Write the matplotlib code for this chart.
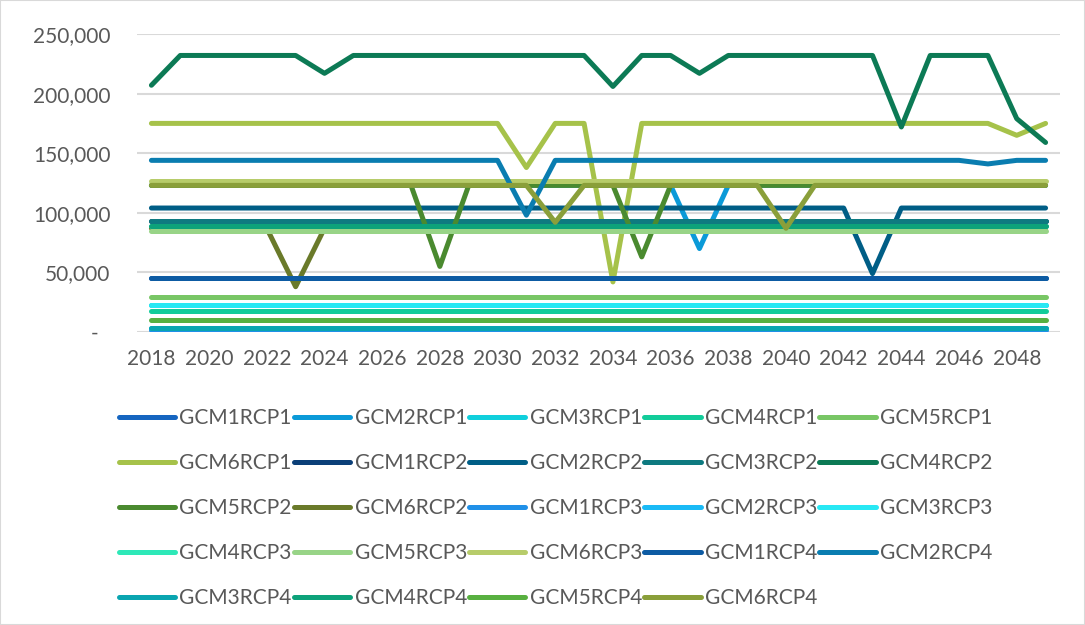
import matplotlib
matplotlib.use("Agg")
import matplotlib.pyplot as plt
from matplotlib.ticker import FuncFormatter, FixedLocator
from matplotlib.transforms import ScaledTranslation

plt.rcParams['font.family'] = ['Lato', 'DejaVu Sans']

# Data
years = list(range(2018, 2050))

series_names = [
    'GCM1RCP1', 'GCM2RCP1', 'GCM3RCP1', 'GCM4RCP1', 'GCM5RCP1', 'GCM6RCP1',
    'GCM1RCP2', 'GCM2RCP2', 'GCM3RCP2', 'GCM4RCP2', 'GCM5RCP2', 'GCM6RCP2',
    'GCM1RCP3', 'GCM2RCP3', 'GCM3RCP3', 'GCM4RCP3', 'GCM5RCP3', 'GCM6RCP3',
    'GCM1RCP4', 'GCM2RCP4', 'GCM3RCP4', 'GCM4RCP4', 'GCM5RCP4', 'GCM6RCP4',
]

colors = [
    '#1565C0', '#0B9AD8', '#10CFDC', '#12CC9A', '#78C665', '#A6C24A',
    '#0B3F78', '#005E86', '#0E7A80', '#0C7A55', '#4A8A2F', '#6A7A2A',
    '#2090E8', '#1ABAF6', '#28E8F4', '#2EE8B8', '#98D487', '#B7CC6A',
    '#0D5BA3', '#0A7DB0', '#0AA5B0', '#0DA27A', '#58B040', '#8A9F3A',
]

#                 2018                                            2028                                                        2038                                                        2048
gcm1rcp1 = [45000, 45000, 45000, 45000, 45000, 45000, 45000, 45000, 45000, 45000, 45000, 45000, 45000, 45000, 45000, 45000, 45000, 45000, 45000, 45000, 45000, 45000, 45000, 45000, 45000, 45000, 45000, 45000, 45000, 45000, 45000, 45000]
gcm2rcp1 = [123000, 123000, 123000, 123000, 123000, 123000, 123000, 123000, 123000, 123000, 123000, 123000, 123000, 123000, 123000, 123000, 123000, 123000, 123000, 70000, 123000, 123000, 123000, 123000, 123000, 123000, 123000, 123000, 123000, 123000, 123000, 123000]
gcm3rcp1 = [22400, 22400, 22400, 22400, 22400, 22400, 22400, 22400, 22400, 22400, 22400, 22400, 22400, 22400, 22400, 22400, 22400, 22400, 22400, 22400, 22400, 22400, 22400, 22400, 22400, 22400, 22400, 22400, 22400, 22400, 22400, 22400]
gcm4rcp1 = [17600, 17600, 17600, 17600, 17600, 17600, 17600, 17600, 17600, 17600, 17600, 17600, 17600, 17600, 17600, 17600, 17600, 17600, 17600, 17600, 17600, 17600, 17600, 17600, 17600, 17600, 17600, 17600, 17600, 17600, 17600, 17600]
gcm5rcp1 = [29000, 29000, 29000, 29000, 29000, 29000, 29000, 29000, 29000, 29000, 29000, 29000, 29000, 29000, 29000, 29000, 29000, 29000, 29000, 29000, 29000, 29000, 29000, 29000, 29000, 29000, 29000, 29000, 29000, 29000, 29000, 29000]
gcm6rcp1 = [175000, 175000, 175000, 175000, 175000, 175000, 175000, 175000, 175000, 175000, 175000, 175000, 175000, 138000, 175000, 175000, 42000, 175000, 175000, 175000, 175000, 175000, 175000, 175000, 175000, 175000, 175000, 175000, 175000, 175000, 165000, 175000]
gcm1rcp2 = [93000, 93000, 93000, 93000, 93000, 93000, 93000, 93000, 93000, 93000, 93000, 93000, 93000, 93000, 93000, 93000, 93000, 93000, 93000, 93000, 93000, 93000, 93000, 93000, 93000, 93000, 93000, 93000, 93000, 93000, 93000, 93000]
gcm2rcp2 = [104000, 104000, 104000, 104000, 104000, 104000, 104000, 104000, 104000, 104000, 104000, 104000, 104000, 104000, 104000, 104000, 104000, 104000, 104000, 104000, 104000, 104000, 104000, 104000, 104000, 49000, 104000, 104000, 104000, 104000, 104000, 104000]
gcm3rcp2 = [93000, 93000, 93000, 93000, 93000, 93000, 93000, 93000, 93000, 93000, 93000, 93000, 93000, 93000, 93000, 93000, 93000, 93000, 93000, 93000, 93000, 93000, 93000, 93000, 93000, 93000, 93000, 93000, 93000, 93000, 93000, 93000]
gcm4rcp2 = [207000, 232000, 232000, 232000, 232000, 232000, 217000, 232000, 232000, 232000, 232000, 232000, 232000, 232000, 232000, 232000, 206000, 232000, 232000, 217000, 232000, 232000, 232000, 232000, 232000, 232000, 172000, 232000, 232000, 232000, 179000, 159000]
gcm5rcp2 = [123000, 123000, 123000, 123000, 123000, 123000, 123000, 123000, 123000, 123000, 55000, 123000, 123000, 123000, 123000, 123000, 123000, 63000, 123000, 123000, 123000, 123000, 123000, 123000, 123000, 123000, 123000, 123000, 123000, 123000, 123000, 123000]
gcm6rcp2 = [87000, 87000, 87000, 87000, 87000, 38000, 87000, 87000, 87000, 87000, 87000, 87000, 87000, 87000, 87000, 87000, 87000, 87000, 87000, 87000, 87000, 87000, 87000, 87000, 87000, 87000, 87000, 87000, 87000, 87000, 87000, 87000]
gcm1rcp3 = [1500, 1500, 1500, 1500, 1500, 1500, 1500, 1500, 1500, 1500, 1500, 1500, 1500, 1500, 1500, 1500, 1500, 1500, 1500, 1500, 1500, 1500, 1500, 1500, 1500, 1500, 1500, 1500, 1500, 1500, 1500, 1500]
gcm2rcp3 = [3400, 3400, 3400, 3400, 3400, 3400, 3400, 3400, 3400, 3400, 3400, 3400, 3400, 3400, 3400, 3400, 3400, 3400, 3400, 3400, 3400, 3400, 3400, 3400, 3400, 3400, 3400, 3400, 3400, 3400, 3400, 3400]
gcm3rcp3 = [22400, 22400, 22400, 22400, 22400, 22400, 22400, 22400, 22400, 22400, 22400, 22400, 22400, 22400, 22400, 22400, 22400, 22400, 22400, 22400, 22400, 22400, 22400, 22400, 22400, 22400, 22400, 22400, 22400, 22400, 22400, 22400]
gcm4rcp3 = [89000, 89000, 89000, 89000, 89000, 89000, 89000, 89000, 89000, 89000, 89000, 89000, 89000, 89000, 89000, 89000, 89000, 89000, 89000, 89000, 89000, 89000, 89000, 89000, 89000, 89000, 89000, 89000, 89000, 89000, 89000, 89000]
gcm5rcp3 = [85000, 85000, 85000, 85000, 85000, 85000, 85000, 85000, 85000, 85000, 85000, 85000, 85000, 85000, 85000, 85000, 85000, 85000, 85000, 85000, 85000, 85000, 85000, 85000, 85000, 85000, 85000, 85000, 85000, 85000, 85000, 85000]
gcm6rcp3 = [127000, 127000, 127000, 127000, 127000, 127000, 127000, 127000, 127000, 127000, 127000, 127000, 127000, 127000, 127000, 127000, 127000, 127000, 127000, 127000, 127000, 127000, 127000, 127000, 127000, 127000, 127000, 127000, 127000, 127000, 127000, 127000]
gcm1rcp4 = [45000, 45000, 45000, 45000, 45000, 45000, 45000, 45000, 45000, 45000, 45000, 45000, 45000, 45000, 45000, 45000, 45000, 45000, 45000, 45000, 45000, 45000, 45000, 45000, 45000, 45000, 45000, 45000, 45000, 45000, 45000, 45000]
gcm2rcp4 = [144000, 144000, 144000, 144000, 144000, 144000, 144000, 144000, 144000, 144000, 144000, 144000, 144000, 98000, 144000, 144000, 144000, 144000, 144000, 144000, 144000, 144000, 144000, 144000, 144000, 144000, 144000, 144000, 144000, 141000, 144000, 144000]
gcm3rcp4 = [3400, 3400, 3400, 3400, 3400, 3400, 3400, 3400, 3400, 3400, 3400, 3400, 3400, 3400, 3400, 3400, 3400, 3400, 3400, 3400, 3400, 3400, 3400, 3400, 3400, 3400, 3400, 3400, 3400, 3400, 3400, 3400]
gcm4rcp4 = [89000, 89000, 89000, 89000, 89000, 89000, 89000, 89000, 89000, 89000, 89000, 89000, 89000, 89000, 89000, 89000, 89000, 89000, 89000, 89000, 89000, 89000, 89000, 89000, 89000, 89000, 89000, 89000, 89000, 89000, 89000, 89000]
gcm5rcp4 = [10000, 10000, 10000, 10000, 10000, 10000, 10000, 10000, 10000, 10000, 10000, 10000, 10000, 10000, 10000, 10000, 10000, 10000, 10000, 10000, 10000, 10000, 10000, 10000, 10000, 10000, 10000, 10000, 10000, 10000, 10000, 10000]
gcm6rcp4 = [123000, 123000, 123000, 123000, 123000, 123000, 123000, 123000, 123000, 123000, 123000, 123000, 123000, 123000, 92000, 123000, 123000, 123000, 123000, 123000, 123000, 123000, 87000, 123000, 123000, 123000, 123000, 123000, 123000, 123000, 123000, 123000]

all_series = [
    gcm1rcp1, gcm2rcp1, gcm3rcp1, gcm4rcp1, gcm5rcp1, gcm6rcp1,
    gcm1rcp2, gcm2rcp2, gcm3rcp2, gcm4rcp2, gcm5rcp2, gcm6rcp2,
    gcm1rcp3, gcm2rcp3, gcm3rcp3, gcm4rcp3, gcm5rcp3, gcm6rcp3,
    gcm1rcp4, gcm2rcp4, gcm3rcp4, gcm4rcp4, gcm5rcp4, gcm6rcp4,
]

# Plotting
fig = plt.figure(figsize=(10.85, 6.25), dpi=100)
ax = fig.add_axes([137 / 1085, 1 - 332 / 625, (1060 - 137) / 1085, (332 - 34) / 625])

x = list(range(len(years)))
lines = []
for name, vals, col in zip(series_names, all_series, colors):
    ln, = ax.plot(x, vals, color=col, linewidth=3.6, label=name,
                  solid_capstyle='round', solid_joinstyle='round')
    lines.append(ln)

ax.set_xlim(-0.5, len(years) - 0.5)
ax.set_ylim(0, 250000)
ax.set_yticks([0, 50000, 100000, 150000, 200000, 250000])
ax.yaxis.set_major_formatter(FuncFormatter(lambda v, p: '-' if v == 0 else f'{v:,.0f}'))
ax.xaxis.set_major_locator(FixedLocator(x[::2]))
ax.set_xticklabels([str(y) for y in years[::2]])

ax.grid(axis='y', color='#D9D9D9', linewidth=1.5)
ax.set_axisbelow(True)
for s in ax.spines.values():
    s.set_visible(False)
ax.tick_params(length=0, labelsize=15, labelcolor='#595959')
ax.tick_params(axis='y', pad=19)
ax.tick_params(axis='x', pad=12)

# zero label sits a bit left of the others
fig.canvas.draw()
for lab in ax.get_yticklabels():
    if lab.get_text() == '-':
        lab.set_transform(lab.get_transform() + ScaledTranslation(-0.12, 0, fig.dpi_scale_trans))

# legend filled row by row like Excel
order = []
for c in range(5):
    for r in range(5):
        i = r * 5 + c
        if i < len(lines):
            order.append(i)
leg = fig.legend([lines[i] for i in order], [series_names[i] for i in order],
                 loc='upper left', bbox_to_anchor=(119 / 1085, 1 - 408 / 625),
                 ncol=5, frameon=False, fontsize=15, handlelength=2.7,
                 handletextpad=0.2, columnspacing=0.11, labelspacing=1.2,
                 borderpad=0, borderaxespad=0)
for t in leg.get_texts():
    t.set_color('#595959')

fig.patches.append(plt.Rectangle((0, 0), 1, 1, transform=fig.transFigure,
                                 fill=False, edgecolor='#D9D9D9', linewidth=1.5))

fig.savefig('out.png', dpi=100)
